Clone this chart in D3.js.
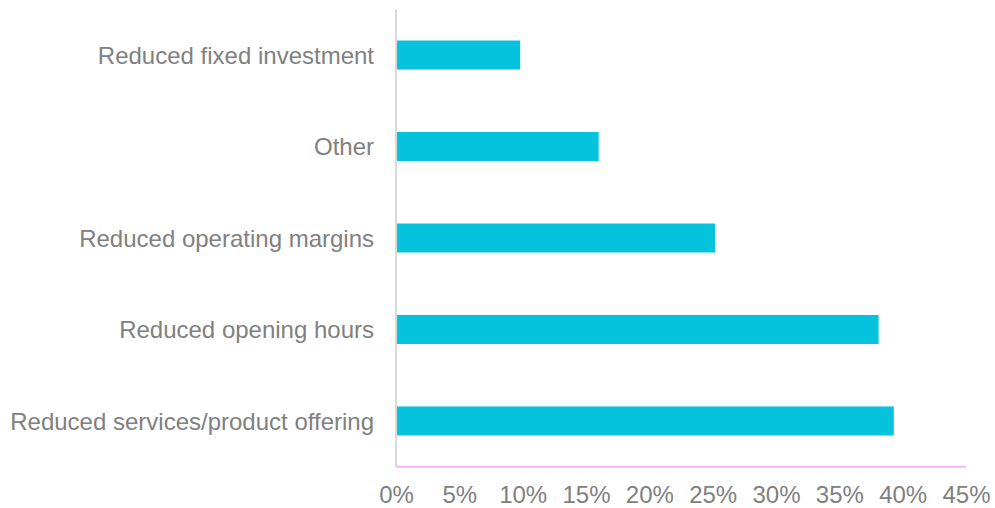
<!DOCTYPE html>
<html>
<head>
<meta charset="utf-8">
<script src="https://cdn.jsdelivr.net/npm/d3@7"></script>
<style>
  body { margin: 0; background: #fff; }
  text { font-family: "Liberation Sans", Arial, sans-serif; fill: #808080; }
</style>
</head>
<body>
<div id="chart"></div>
<script>
// chart data, top to bottom
var categories = [
  "Reduced fixed investment",
  "Other",
  "Reduced operating margins",
  "Reduced opening hours",
  "Reduced services/product offering"
];
var shares = [0.098, 0.16, 0.252, 0.381, 0.393];
var tickValues = [0, 0.05, 0.1, 0.15, 0.2, 0.25, 0.3, 0.35, 0.4, 0.45];

var svgWidth = 995, svgHeight = 508;
var margin = { top: 9.3, right: 29, bottom: 41.3, left: 396 };
var chartWidth = svgWidth - margin.left - margin.right;
var chartHeight = svgHeight - margin.top - margin.bottom;

var svg = d3.select("#chart").append("svg")
  .attr("width", svgWidth)
  .attr("height", svgHeight);

var chartGroup = svg.append("g")
  .attr("transform", `translate(${margin.left}, ${margin.top})`);

var xScale = d3.scaleLinear()
  .domain([0, 0.45])
  .range([0, chartWidth]);

var yScale = d3.scaleBand()
  .domain(categories)
  .range([0, chartHeight])
  .paddingInner(0.683)
  .paddingOuter(0.683 / 2);

// bars
chartGroup.selectAll("rect.bar")
  .data(categories)
  .enter()
  .append("rect")
  .attr("class", "bar")
  .attr("x", xScale(0))
  .attr("y", d => yScale(d))
  .attr("width", (d, i) => xScale(shares[i]) - xScale(0))
  .attr("height", yScale.bandwidth())
  .attr("fill", "#05c3dd");

// y axis line (light gray)
chartGroup.append("line")
  .attr("x1", 0).attr("x2", 0)
  .attr("y1", 0).attr("y2", chartHeight)
  .attr("stroke", "#d9d9d9")
  .attr("stroke-width", 2);

// x axis line (pink)
chartGroup.append("line")
  .attr("x1", 0).attr("x2", chartWidth)
  .attr("y1", chartHeight).attr("y2", chartHeight)
  .attr("stroke", "#f9b7f1")
  .attr("stroke-width", 2);

// category labels
var yAxis = d3.axisLeft(yScale).tickSize(0).tickPadding(22);
var yAxisG = chartGroup.append("g").call(yAxis);
yAxisG.select(".domain").remove();
yAxisG.selectAll("text")
  .attr("font-size", "24px")
  .attr("dy", "0.36em")
  .style("font-family", "'Liberation Sans', Arial, sans-serif")
  .attr("fill", "#808080");

// percent tick labels
var xAxis = d3.axisBottom(xScale)
  .tickValues(tickValues)
  .tickSize(0)
  .tickPadding(0)
  .tickFormat(d3.format(".0%"));
var xAxisG = chartGroup.append("g")
  .attr("transform", `translate(0, ${chartHeight})`)
  .call(xAxis);
xAxisG.select(".domain").remove();
xAxisG.selectAll("text")
  .attr("font-size", "24px")
  .attr("y", 36.6)
  .attr("dy", 0)
  .style("font-family", "'Liberation Sans', Arial, sans-serif")
  .attr("fill", "#808080");
</script>
</body>
</html>
